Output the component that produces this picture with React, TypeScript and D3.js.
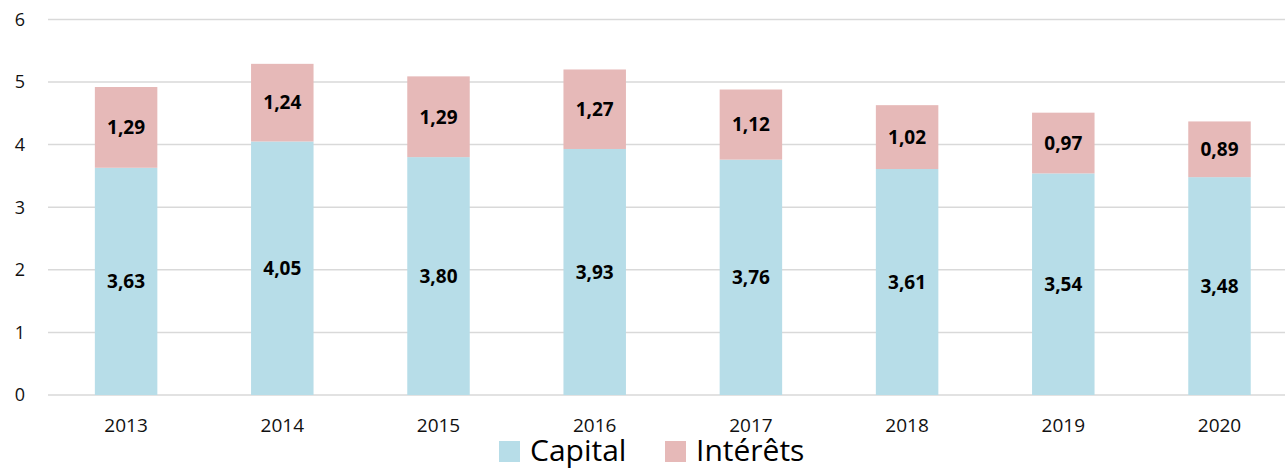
import React, { useEffect, useRef } from 'react';
import * as d3 from 'd3';

const years = ['2013', '2014', '2015', '2016', '2017', '2018', '2019', '2020'];
const capital = [3.63, 4.05, 3.8, 3.93, 3.76, 3.61, 3.54, 3.48];
const interets = [1.29, 1.24, 1.29, 1.27, 1.12, 1.02, 0.97, 0.89];
const yTicks = [0, 1, 2, 3, 4, 5, 6];
const seriesNames = ['Capital', 'Intérêts'];
const seriesColors = ['#B7DDE8', '#E6B9B8'];

const width = 1285;
const height = 469;
const font = '"Open Sans", "DejaVu Sans", sans-serif';

export default function App() {
  const svgRef = useRef<SVGSVGElement | null>(null);

  useEffect(() => {
    const svg = d3.select(svgRef.current!);
    svg.selectAll('*').remove();

    const x = d3.scaleBand<string>().domain(years).range([48, 1297.6]).paddingInner(0.6).paddingOuter(0.3);
    const y = d3.scaleLinear().domain([0, 6]).range([395, 19.4]);

    // gridlines
    svg
      .append('g')
      .selectAll('line')
      .data(yTicks)
      .join('line')
      .attr('x1', 48)
      .attr('x2', width)
      .attr('y1', (d) => y(d))
      .attr('y2', (d) => y(d))
      .attr('stroke', '#d9d9d9')
      .attr('stroke-width', 1.5);

    // y tick labels
    svg
      .append('g')
      .selectAll('text')
      .data(yTicks)
      .join('text')
      .attr('x', 20)
      .attr('y', (d) => y(d))
      .attr('dy', '0.35em')
      .attr('text-anchor', 'middle')
      .attr('font-family', font)
      .attr('font-size', 18)
      .attr('fill', '#111')
      .text((d) => String(d));

    const rows = years.map((yr, i) => ({ year: yr, Capital: capital[i], 'Intérêts': interets[i] }));
    const stacked = d3.stack<any>().keys(seriesNames)(rows);

    const bw = x.bandwidth();
    stacked.forEach((layer, si) => {
      const g = svg.append('g');
      g.selectAll('rect')
        .data(layer)
        .join('rect')
        .attr('x', (d: any) => x(d.data.year)!)
        .attr('width', bw)
        .attr('y', (d) => y(d[1]))
        .attr('height', (d) => y(d[0]) - y(d[1]))
        .attr('fill', seriesColors[si]);
      g.selectAll('text')
        .data(layer)
        .join('text')
        .attr('x', (d: any) => x(d.data.year)! + bw / 2)
        .attr('y', (d) => y((d[0] + d[1]) / 2))
        .attr('dy', '0.36em')
        .attr('text-anchor', 'middle')
        .attr('font-family', font)
        .attr('font-weight', 'bold')
        .attr('font-size', 19)
        .attr('fill', '#000')
        .text((d) => (d[1] - d[0]).toFixed(2).replace('.', ','));
    });

    // x labels
    svg
      .append('g')
      .selectAll('text')
      .data(years)
      .join('text')
      .attr('x', (d) => x(d)! + bw / 2)
      .attr('y', 432)
      .attr('text-anchor', 'middle')
      .attr('font-family', font)
      .attr('font-size', 19)
      .attr('fill', '#111')
      .text((d) => d);

    // legend
    const legendX = [499, 665];
    const leg = svg.append('g');
    seriesNames.forEach((name, i) => {
      leg
        .append('rect')
        .attr('x', legendX[i])
        .attr('y', 441)
        .attr('width', 21)
        .attr('height', 21)
        .attr('fill', seriesColors[i]);
      leg
        .append('text')
        .attr('x', legendX[i] + 31)
        .attr('y', 461)
        .attr('font-family', font)
        .attr('font-size', 30)
        .attr('fill', '#000')
        .text(name);
    });
  }, []);

  return (
    <svg
      ref={svgRef}
      width={width}
      height={height}
      style={{ position: 'absolute', left: 0, top: 0, background: '#fff', display: 'block' }}
    />
  );
}
